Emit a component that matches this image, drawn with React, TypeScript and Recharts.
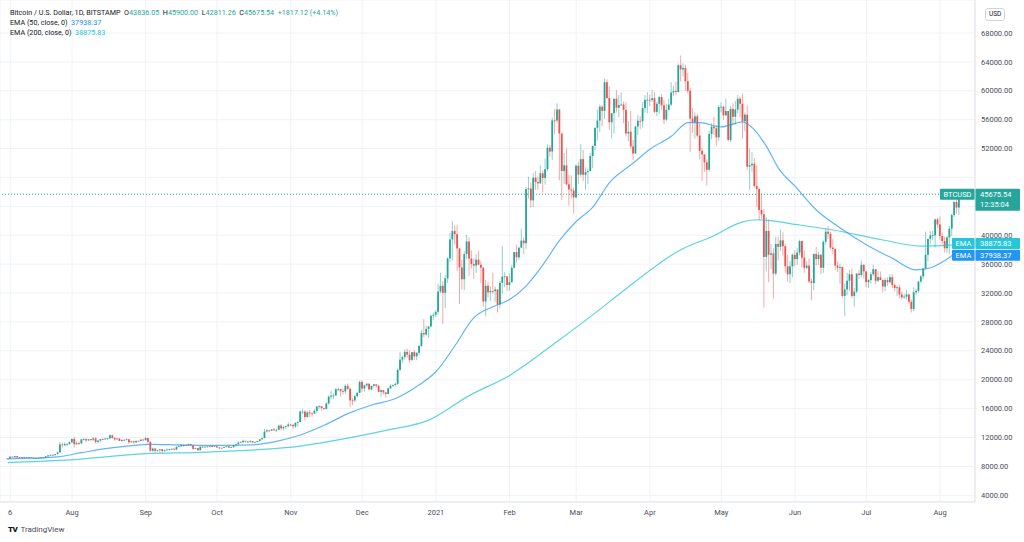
import React from 'react';
import { ComposedChart, Bar, Line, XAxis, YAxis, CartesianGrid, ReferenceLine } from 'recharts';

type Row = [number, number, number]; // high, low, close (open = previous close)

const firstOpen = 9130;

const jul2020: Row[] = [[9140,8910,9080],[9370,9060,9350],[9360,9200,9250],[9450,9230,9430],[9440,9140,9240],[9310,9110,9290],[9300,9190,9240],[9340,9160,9300],[9340,9200,9240],[9280,9110,9250],[9270,9170,9200],[9210,9000,9130],[9190,9090,9150],[9190,9120,9170],[9230,9110,9210],[9220,9140,9160],[9420,9150,9390],[9540,9280,9530],[9640,9470,9610],[9650,9450,9550],[9740,9540,9710],[10100,9640,9930],[11400,9920,11040],[11250,10600,10930],[11340,10860,11100],[11180,10840,11110],[11450,10990,11350]];
const aug2020: Row[] = [[11880,11220,11800],[12100,10600,11070],[11480,10950,11230],[11420,11000,11190],[11800,11100,11740],[11910,11580,11770],[11900,11330,11600],[11800,11530,11760],[11810,11540,11680],[12060,11520,11880],[12050,11130,11390],[11620,11160,11580],[11800,11280,11780],[11870,11630,11770],[11960,11700,11860],[11930,11680,11900],[12470,11800,12300],[12400,11820,11960],[12020,11560,11750],[11890,11680,11870],[11890,11480,11530],[11690,11380,11680],[11720,11530,11650],[11830,11600,11760],[11770,11130,11340],[11540,11270,11470],[11580,11160,11320],[11560,11300,11540],[11590,11450,11510],[11720,11500,11710],[11780,11580,11650]];
const sep2020: Row[] = [[12090,11550,11920],[11950,11170,11400],[11470,10000,10170],[10620,9990,10470],[10550,9880,10170],[10350,10000,10250],[10400,9880,10370],[10440,9860,10130],[10360,10000,10230],[10470,10200,10340],[10420,10200,10390],[10480,10300,10440],[10580,10250,10330],[10800,10280,10680],[10940,10640,10790],[11100,10680,10950],[11040,10740,10940],[11030,10830,10930],[11180,10900,11080],[11060,10810,10920],[10990,10300,10420],[10580,10350,10530],[10550,10160,10240],[10780,10200,10740],[10760,10560,10690],[10800,10630,10730],[10800,10630,10770],[10960,10670,10690],[10860,10650,10840],[10850,10680,10780]];
const oct2020: Row[] = [[10940,10560,10620],[10670,10370,10570],[10600,10500,10550],[10690,10520,10670],[10800,10630,10790],[10800,10540,10600],[10690,10560,10670],[10960,10540,10920],[11120,10840,11060],[11480,11060,11300],[11440,11280,11370],[11720,11230,11540],[11560,11300,11430],[11550,11280,11430],[11630,11280,11500],[11540,11220,11320],[11400,11310,11370],[11530,11360,11510],[11820,11420,11750],[12000,11680,11920],[13220,11900,12820],[13190,12700,12980],[13020,12730,12930],[13160,12900,13120],[13340,12900,13040],[13230,12780,13070],[13780,13060,13650],[13850,12980,13280],[13630,12990,13460],[13650,13150,13560],[14080,13450,13800]];
const nov2020: Row[] = [[13900,13620,13750],[13820,13220,13550],[14070,13300,14030],[14260,13530,14150],[15760,14100,15590],[15970,15210,15590],[15770,14380,14840],[15660,14720,15480],[15840,14810,15330],[15480,14850,15310],[15950,15280,15700],[16340,15440,16290],[16480,15990,16330],[16330,15720,16070],[16140,15810,15960],[16880,15880,16720],[17840,16560,17660],[18490,17250,17800],[18140,17360,17820],[18820,17770,18680],[18950,18430,18700],[18750,17690,18420],[18760,18000,18370],[19400,18060,19160],[19480,18570,18740],[18920,16200,17150],[17460,16500,17130],[17880,16880,17730],[18320,17520,18180],[19870,18180,19700]];
const dec2020: Row[] = [[19920,18330,18790],[19320,18340,19220],[19560,18920,19440],[19510,18580,18650],[19180,18530,19150],[19420,18900,19360],[19420,18910,19170],[19290,18220,18320],[18640,17600,18550],[18560,17930,18250],[18290,17570,18030],[18940,18000,18800],[19420,18710,19170],[19330,19000,19270],[19570,19060,19440],[21560,19290,21350],[23800,21230,22800],[23290,22350,23140],[24200,22800,23850],[24300,23060,23480],[24100,22350,22740],[23840,22600,23820],[24100,22700,23240],[23800,22700,23730],[24780,23420,24690],[26870,24500,26460],[28400,25880,26270],[27500,26100,27040],[27400,25800,27370],[28990,27320,28860],[29300,28200,28990]];
const jan2021: Row[] = [[29600,28700,29400],[33300,29000,32200],[34800,32000,33000],[33600,27700,32030],[34500,29900,34030],[36950,33400,36800],[40300,36300,39430],[41950,36500,40580],[41350,38700,40150],[41400,35100,38180],[38200,30500,35540],[36600,32500,33910],[37800,32400,37390],[40100,36700,39140],[39700,34400,36770],[37900,35400,36010],[36800,33900,35800],[37400,34800,36630],[37800,35900,35920],[36400,33400,35500],[35600,30100,30830],[33800,28800,33010],[33500,31400,32090],[32900,30900,32290],[34800,31900,32260],[32900,30800,32510],[32500,29300,30430],[33700,29900,33410],[38500,31900,34270],[34900,32800,34310],[34300,32300,33110]];
const feb2021: Row[] = [[34700,32300,33520],[35900,33400,35510],[37700,35400,37670],[38700,36200,36950],[38300,36600,38290],[40900,38200,39260],[39700,37400,38900],[46700,38100,46400],[48100,45100,46480],[47300,43800,44840],[48600,43900,47970],[48900,46300,47380],[48100,46300,47190],[49700,47100,48580],[49000,45900,47930],[50600,47000,49150],[52600,48900,52120],[52500,50900,51590],[56300,50400,55900],[57500,54000,55890],[58300,55500,57410],[57500,47600,54090],[54200,44900,48890],[51400,47100,49680],[52000,46900,47050],[48400,44100,46340],[48300,45100,46190],[46600,43000,45240]];
const mar2021: Row[] = [[49800,45100,49630],[50200,47100,48400],[52600,48100,50540],[51800,47500,48370],[49400,46300,48750],[49200,47100,48880],[51400,48900,50970],[52400,49300,52380],[54900,51800,54880],[57400,53100,55880],[58100,54300,57800],[58000,55100,57220],[61700,56100,61190],[61600,58900,59000],[60600,54600,55640],[56900,53400,56900],[58900,54100,58910],[60100,57000,57650],[59400,56300,58030],[59800,57900,58100],[58500,55500,57350],[58400,53700,54100],[55800,53000,54340],[57200,52000,52300],[53200,50400,51320],[55100,51300,55060],[56600,53900,55840],[56500,54700,55780],[58400,54900,57610],[59400,57000,58750],[59800,56900,58760]];
const apr2021: Row[] = [[59500,57900,58720],[60100,58500,58980],[59800,56900,57080],[58500,56500,58200],[59300,56800,59120],[59500,57300,57990],[58700,55400,56020],[58200,55800,57370],[58900,57300,58090],[61200,57900,59770],[60700,59300,59970],[61300,59400,59840],[63800,59800,63540],[64900,61300,62960],[63800,62000,63160],[63600,60000,61330],[62500,59600,60000],[60400,51500,56150],[57600,54200,55660],[57000,53400,56470],[56800,53600,53800],[55500,50500,51700],[52100,47500,51190],[51200,48800,50100],[50500,46900,49070],[54400,48800,54020],[55500,53300,55030],[56400,53900,54820],[55200,52400,53560],[58000,53100,57750]];
const may2021: Row[] = [[58400,57000,57800],[57900,56000,56600],[58900,56500,57200],[57200,53000,53200],[57900,52900,57500],[58300,55200,56400],[58600,55300,57400],[59400,56900,58900],[59200,56300,58200],[59600,53400,55800],[57000,54400,56700],[58000,49100,49500],[52000,46300,49700],[51500,48800,49900],[50700,46600,46800],[49700,43900,46400],[46600,42100,43500],[45800,42300,42900],[43600,30000,37000],[42500,35000,40600],[42200,33500,37300],[38800,35300,37500],[38200,31200,34700],[39800,34400,38800],[39800,36500,38400],[40800,37800,39300],[40400,37200,38500],[38800,34800,35700],[37300,33600,34600],[36400,33400,35700],[37500,34200,37300]];
const jun2021: Row[] = [[37900,35700,36700],[38200,35900,37600],[39400,37200,39200],[39300,35600,36900],[37900,34800,35500],[36400,35300,35800],[36800,33400,33600],[34000,31000,33400],[37500,32400,37400],[38400,35800,36700],[37700,35900,37300],[37400,34600,35500],[39300,34800,39100],[41000,38700,40500],[41300,39500,40200],[40500,38100,38300],[39500,37400,38100],[38200,35200,35800],[36400,34900,35500],[36100,33300,35600],[35700,31300,31600],[33300,28800,32500],[34800,31700,33700],[35200,32300,34600],[35400,31300,31600],[32700,30100,32200],[34700,32000,34700],[35200,33900,34500],[36500,34200,35900],[36000,34000,35000]];
const jul2021: Row[] = [[35000,32800,33500],[33900,32700,33800],[34900,33300,34600],[35900,34400,35300],[35300,33200,33700],[35000,33500,34200],[35000,33800,33800],[33900,32100,32900],[34100,32300,33800],[34200,33000,33500],[34600,33300,34200],[34600,32700,33100],[33300,32200,32700],[33100,31600,32800],[33200,31300,31800],[32200,31100,31400],[31900,31200,31500],[32400,31100,31800],[31900,30500,30800],[31100,29300,29800],[32800,29500,32100],[32600,31700,32300],[33600,32000,33600],[34500,33400,34300],[35400,33900,35400],[40500,35300,37300],[39500,36400,39500],[40600,38800,40000],[40600,39300,40000],[42300,38300,42200],[42400,41000,41500]];
const aug2021: Row[] = [[42600,39400,39900],[40400,38700,39200],[39800,37600,38200],[39900,37600,39700],[41300,37400,40900],[43000,39900,42800],[44700,42500,44600],[45300,43000,43836.05],[45900,42811.26,45675.54]];

const monthStarts = ['2020-07-05','2020-08-01','2020-09-01','2020-10-01','2020-11-01','2020-12-01','2021-01-01','2021-02-01','2021-03-01','2021-04-01','2021-05-01','2021-06-01','2021-07-01','2021-08-01'];
const monthRows = [jul2020, aug2020, sep2020, oct2020, nov2020, dec2020, jan2021, feb2021, mar2021, apr2021, may2021, jun2021, jul2021, aug2021];

// EMA values: [date, value]
const ema50Points: [string, number][] = [
  ['2020-07-05',9030],['2020-07-15',9150],['2020-07-26',9330],['2020-08-05',9900],['2020-08-15',10450],['2020-08-25',10850],['2020-09-03',11050],['2020-09-15',10980],['2020-09-30',10900],['2020-10-15',10980],['2020-10-25',11400],['2020-11-05',12350],['2020-11-15',13700],['2020-11-25',15300],['2020-12-05',16500],['2020-12-15',17400],['2020-12-25',19300],['2021-01-01',21100],['2021-01-09',24700],['2021-01-17',28600],['2021-01-25',30100],['2021-02-01',31100],['2021-02-08',33000],['2021-02-15',35900],['2021-02-22',39300],['2021-03-01',41900],['2021-03-08',43900],['2021-03-15',47300],['2021-03-25',50000],['2021-04-01',51900],['2021-04-10',53700],['2021-04-17',55600],['2021-04-22',55600],['2021-05-01',55000],['2021-05-10',55700],['2021-05-14',54900],['2021-05-20',52300],['2021-05-25',49300],['2021-06-01',46800],['2021-06-10',43500],['2021-06-20',41000],['2021-07-01',38700],['2021-07-12',36800],['2021-07-22',35200],['2021-07-28',35500],['2021-08-03',36500],['2021-08-09',37938.37]
];
const ema200Points: [string, number][] = [
  ['2020-07-05',8530],['2020-07-29',8860],['2020-09-01',9770],['2020-09-24',9950],['2020-10-15',10250],['2020-11-05',10800],['2020-11-18',11500],['2020-12-12',13050],['2020-12-29',14400],['2021-01-15',17800],['2021-02-01',20600],['2021-02-21',25300],['2021-03-10',29500],['2021-03-22',32600],['2021-04-14',38000],['2021-04-27',39800],['2021-05-10',41850],['2021-05-16',42150],['2021-06-03',41420],['2021-06-17',40730],['2021-07-08',39340],['2021-07-24',38510],['2021-08-04',38600],['2021-08-09',38875.83]
];

const tickDates = ['2020-07-06','2020-08-01','2020-09-01','2020-10-01','2020-11-01','2020-12-01','2021-01-01','2021-02-01','2021-03-01','2021-04-01','2021-05-01','2021-06-01','2021-07-01','2021-08-01'];
const tickLabels = ['6','Aug','Sep','Oct','Nov','Dec','2021','Feb','Mar','Apr','May','Jun','Jul','Aug'];
const yTicks = [4000,8000,12000,16000,20000,24000,28000,32000,36000,40000,44000,48000,52000,56000,60000,64000,68000];

const DAY = 86400000;
const base = Date.parse('2020-07-06');
const dayIndex = (s: string) => Math.round((Date.parse(s) - base) / DAY);

type Candle = { d: number; o: number; h: number; l: number; c: number };
const candles: Candle[] = [];
{
  let prev = firstOpen;
  monthRows.forEach((rows, mi) => {
    const start = dayIndex(monthStarts[mi]);
    rows.forEach((r, i) => {
      candles.push({ d: start + i, o: prev, h: r[0], l: r[1], c: r[2] });
      prev = r[2];
    });
  });
}
const ema50 = ema50Points.map(([s, v]) => ({ d: dayIndex(s), v }));
const ema200 = ema200Points.map(([s, v]) => ({ d: dayIndex(s), v }));
const ticks = tickDates.map(dayIndex);
const tickMap: Record<number, string> = {};
ticks.forEach((t, i) => (tickMap[t] = tickLabels[i]));

const last = candles[candles.length - 1];
const lastEma50 = ema50[ema50.length - 1].v;
const lastEma200 = ema200[ema200.length - 1].v;

const UP = '#26a69a';
const DOWN = '#ef5350';
const EMA50C = '#2196f3';
const EMA200C = '#26c6da';
const FONT = 'Roboto, "DejaVu Sans", sans-serif';

const CandleShape = (props: any) => {
  const { x, y, width, height, payload } = props;
  if (x == null || y == null || !payload) return null;
  const top = Math.min(y, y + height);
  const bot = Math.max(y, y + height);
  const { o, h, l, c } = payload as Candle;
  const span = h - l || 1;
  const py = (v: number) => top + ((h - v) / span) * (bot - top);
  const color = c >= o ? UP : DOWN;
  const cx = x + width / 2;
  const bt = py(Math.max(o, c));
  const bb = py(Math.min(o, c));
  return (
    <g>
      <line x1={cx} x2={cx} y1={top} y2={bot} stroke={color} strokeOpacity={0.5} strokeWidth={1} />
      <rect x={cx - 0.9} y={bt} width={1.8} height={Math.max(bb - bt, 0.8)} fill={color} />
    </g>
  );
};

// right-axis tick: hidden where the last-price box covers it
const YTick = (props: any) => {
  const { x, y, payload } = props;
  const v = payload?.value as number;
  if (Math.abs(v - last.c) < 2500) return null;
  return (
    <text x={x} y={y} dy="0.355em" fontSize={7.5} fill="#4a4e5a" fontFamily={FONT} textAnchor="start">
      {v.toFixed(2)}
    </text>
  );
};

const makeLabel = (left: string, lines: string[], color: string, leftW: number, dy: number) => (props: any) => {
  const vb = props.viewBox || {};
  const right = (vb.x || 0) + (vb.width || 0);
  const ly = (vb.y || 0) + dy;
  const h = lines.length > 1 ? 22 : 11;
  return (
    <g style={{ fontFamily: FONT }}>
      <rect x={right - leftW} y={ly - 5.5} width={leftW} height={11} fill={color} rx={1} />
      <text x={right - leftW / 2} y={ly + 2.6} fill="#fff" fontSize={7.5} textAnchor="middle">{left}</text>
      <rect x={right} y={ly - 5.5} width={45} height={h} fill={color} rx={1} />
      {lines.map((t, i) => (
        <text key={i} x={right + 5} y={ly + 2.6 + i * 10.5} fill="#fff" fontSize={7.5}>{t}</text>
      ))}
    </g>
  );
};

export default function App() {
  return (
    <div style={{ position: 'absolute', left: 0, top: 0, width: 1024, height: 542, background: '#fff', fontFamily: FONT }}>
      <ComposedChart width={1024} height={542} data={candles} margin={{ top: 0, right: 0, left: 0, bottom: 0 }}>
        <CartesianGrid stroke="#f0f2f6" />
        <XAxis
          type="number"
          dataKey="d"
          domain={[-4.3, 405.7]}
          allowDataOverflow
          ticks={ticks}
          tickFormatter={(v: number) => tickMap[v] ?? ''}
          height={40}
          tickLine={false}
          tickSize={6}
          axisLine={{ stroke: '#e0e3eb' }}
          tick={{ fontSize: 7.5, fill: '#4a4e5a', fontFamily: FONT }}
        />
        <YAxis
          orientation="right"
          type="number"
          domain={[3072, 72571]}
          allowDataOverflow
          ticks={yTicks}
          width={49}
          tickLine={false}
          tickSize={4}
          axisLine={{ stroke: '#e0e3eb' }}
          tick={<YTick />}
        />
        <Line data={ema200} dataKey="v" type="monotone" stroke={EMA200C} strokeOpacity={0.75} strokeWidth={1.2} dot={false} activeDot={false} isAnimationActive={false} />
        <Line data={ema50} dataKey="v" type="monotone" stroke={EMA50C} strokeOpacity={0.7} strokeWidth={1.2} dot={false} activeDot={false} isAnimationActive={false} />
        <Bar dataKey={(p: Candle) => [p.l, p.h]} barSize={2} shape={CandleShape} activeBar={false} isAnimationActive={false} />
        <ReferenceLine y={last.c} stroke={UP} strokeDasharray="1 2" strokeWidth={1}
          label={makeLabel('BTCUSD', [last.c.toFixed(2), '12:35:04'], UP, 35, 0)} />
        <ReferenceLine y={lastEma200} stroke="none" label={makeLabel('EMA', [lastEma200.toFixed(2)], EMA200C, 23, 0)} />
        <ReferenceLine y={lastEma50} stroke="none" label={makeLabel('EMA', [lastEma50.toFixed(2)], EMA50C, 23, 5)} />
      </ComposedChart>

      <div style={{ position: 'absolute', left: 10, top: 8, fontSize: 7.2, lineHeight: '10px', color: '#131722', whiteSpace: 'nowrap' }}>
        <div>
          Bitcoin / U.S. Dollar, 1D, BITSTAMP&nbsp;&nbsp;O<span style={{ color: UP }}>43836.05</span>&nbsp;&nbsp;H<span style={{ color: UP }}>45900.00</span>&nbsp;&nbsp;L<span style={{ color: UP }}>42811.26</span>&nbsp;&nbsp;C<span style={{ color: UP }}>45675.54&nbsp;&nbsp;+1817.12 (+4.14%)</span>
        </div>
        <div>EMA (50, close, 0)&nbsp;&nbsp;<span style={{ color: EMA50C }}>37938.37</span></div>
        <div>EMA (200, close, 0)&nbsp;&nbsp;<span style={{ color: EMA200C }}>38875.83</span></div>
      </div>

      <div style={{ position: 'absolute', left: 985, top: 8, fontSize: 6.5, color: '#131722', border: '1px solid #d1d4dc', borderRadius: 3, padding: '1px 3px', lineHeight: '9px' }}>USD</div>

      <div style={{ position: 'absolute', left: 8, top: 525, fontSize: 8, color: '#131722', whiteSpace: 'nowrap', display: 'flex', alignItems: 'center' }}>
        <span style={{ fontWeight: 900, fontSize: 8, letterSpacing: -0.5, marginRight: 3 }}>TV</span>
        <span style={{ color: '#4a4e5a' }}>TradingView</span>
      </div>
    </div>
  );
}
